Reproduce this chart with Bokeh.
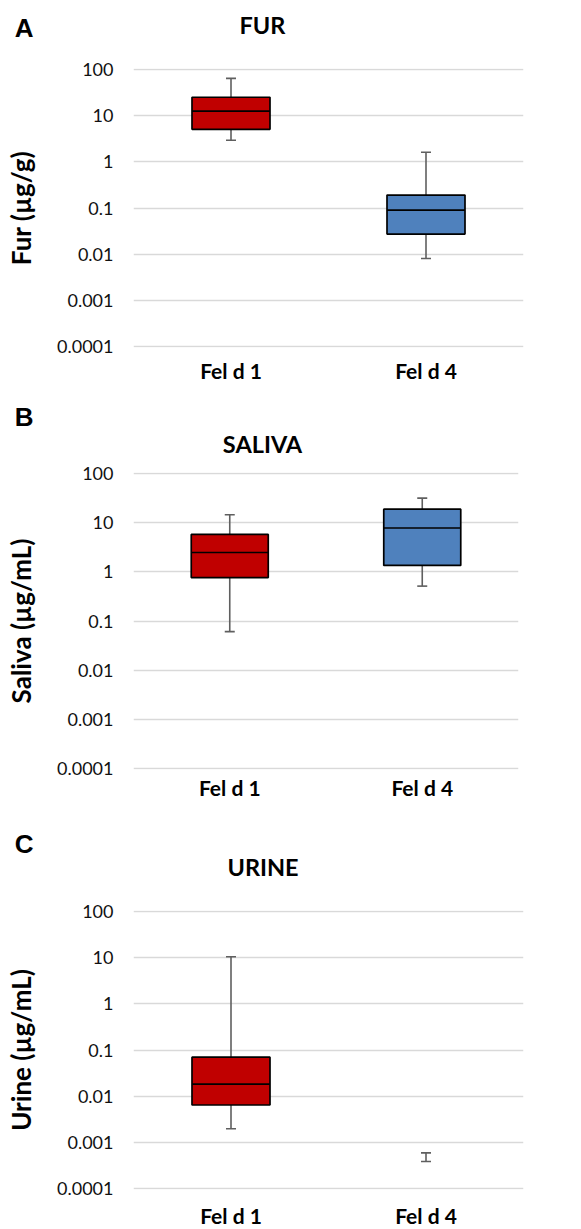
import math
from bokeh.plotting import figure
from bokeh.models import (ColumnDataSource, FactorRange, Range1d, FixedTicker,
                          CustomJSTickFormatter, Label)
from bokeh.layouts import column
from bokeh.embed import file_html
from bokeh.resources import INLINE

NAN = float("nan")

# ---------------- data ----------------
categories = ["Fel d 1", "Fel d 4"]
box_colors = ["#C00000", "#4F81BD"]
tick_values = [0.0001, 0.001, 0.01, 0.1, 1, 10, 100]

panel_letters = ["A", "B", "C"]
panel_titles = ["FUR", "SALIVA", "URINE"]
panel_ylabels = ["Fur (µg/g)", "Saliva (µg/mL)", "Urine (µg/mL)"]

fur_min = [2.9, 0.0081]
fur_q1 = [5.0, 0.0274]
fur_median = [12.3, 0.09]
fur_q3 = [24.6, 0.19]
fur_max = [63.0, 1.6]

saliva_min = [0.061, 0.51]
saliva_q1 = [0.76, 1.34]
saliva_median = [2.45, 7.7]
saliva_q3 = [5.7, 18.5]
saliva_max = [14.3, 31.0]

urine_min = [0.0020, 0.00039]
urine_q1 = [0.0065, NAN]
urine_median = [0.0184, NAN]
urine_q3 = [0.070, NAN]
urine_max = [10.3, 0.0006]

series = [
    (fur_min, fur_q1, fur_median, fur_q3, fur_max),
    (saliva_min, saliva_q1, saliva_median, saliva_q3, saliva_max),
    (urine_min, urine_q1, urine_median, urine_q3, urine_max),
]

# ---------------- layout / style ----------------
W = 565
BL = 133          # common left border (frames are aligned in the column)
LETTER_RIGHT = 33.5
layouts = [
    # hh: header height; ty: title centre from header bottom; ly: letter centre from header top
    dict(hh=54, tx=262.0, ty=29.5, ly=27.5, fw=390, bt=14, fh=279, bb=48, cs=10),
    dict(hh=63, tx=262.0, ty=14.5, ly=21.7, fw=385, bt=14, fh=297, bb=40, cs=5),
    dict(hh=87, tx=262.5, ty=29.3, ly=34.3, fw=390, bt=14, fh=279, bb=39, cs=13),
]

FONT = "Lato"
WHISKER = "#5f5f5f"
GRID = "#D9D9D9"
PAD = 0.012

items = []
for i in range(3):
    L = layouts[i]
    mins, q1, med, q3, maxs = series[i]

    # ---- header strip: panel letter (as a tick label) and panel title ----
    h = figure(width=W, height=L["hh"], frame_width=L["fw"], frame_height=L["hh"],
               x_range=Range1d(0, 1), y_range=Range1d(L["hh"], 0),
               x_axis_location=None, y_axis_location="left",
               min_border_left=BL, min_border_right=W - BL - L["fw"],
               min_border_top=0, min_border_bottom=0,
               output_backend="svg", toolbar_location=None,
               background_fill_color="white", border_fill_color="white")
    h.outline_line_color = None
    h.grid.visible = False
    hy = h.yaxis[0]
    hy.ticker = FixedTicker(ticks=[L["ly"]], minor_ticks=[])
    hy.formatter = CustomJSTickFormatter(args=dict(label=panel_letters[i]), code="return label;")
    hy.axis_line_color = None
    hy.major_tick_line_color = None
    hy.minor_tick_line_color = None
    hy.major_tick_in = 0
    hy.major_tick_out = 0
    hy.major_label_standoff = int(round(BL - LETTER_RIGHT))
    hy.major_label_text_font = "Liberation Sans"
    hy.major_label_text_font_style = "bold"
    hy.major_label_text_font_size = "26px"
    hy.major_label_text_color = "black"
    h.add_layout(Label(x=L["tx"] - BL, y=L["ty"], x_units="screen", y_units="screen",
                       text=panel_titles[i], text_align="center", text_baseline="middle",
                       text_font=FONT, text_font_style="bold", text_font_size="23.5px",
                       text_color="black"))
    items.append(h)

    # ---- box plot ----
    p = figure(
        x_range=FactorRange(factors=categories),
        y_range=Range1d(10 ** (math.log10(tick_values[0]) - PAD),
                        10 ** (math.log10(tick_values[-1]) + PAD)),
        y_axis_type="log",
        frame_width=L["fw"], frame_height=L["fh"],
        min_border_left=BL, min_border_right=W - BL - L["fw"],
        min_border_top=L["bt"], min_border_bottom=L["bb"],
        output_backend="svg", toolbar_location=None,
        background_fill_color="white", border_fill_color="white",
    )
    p.outline_line_color = None
    p.xgrid.visible = False
    p.ygrid.grid_line_color = GRID
    p.ygrid.grid_line_width = 1.5

    src = ColumnDataSource(dict(
        cat=categories,
        left=[(c, -0.2) for c in categories],
        right=[(c, 0.2) for c in categories],
        lo=mins, q1=q1, med=med, q3=q3, hi=maxs,
        color=box_colors,
    ))

    p.segment(x0="cat", x1="cat", y0="lo", y1="hi", source=src,
              line_color=WHISKER, line_width=1.6)
    p.vbar(x="cat", width=0.4, bottom="q1", top="q3", source=src,
           fill_color="color", line_color="black", line_width=1.7)
    p.segment(x0="left", x1="right", y0="med", y1="med", source=src,
              line_color="black", line_width=1.7)
    p.scatter(x="cat", y="lo", marker="dash", size=10, source=src,
              line_color=WHISKER, line_width=1.6)
    p.scatter(x="cat", y="hi", marker="dash", size=10, source=src,
              line_color=WHISKER, line_width=1.6)

    yax = p.yaxis[0]
    yax.ticker = FixedTicker(ticks=tick_values, minor_ticks=[])
    yax.formatter = CustomJSTickFormatter(code="return tick.toString();")
    yax.axis_line_color = None
    yax.major_tick_line_color = None
    yax.minor_tick_line_color = None
    yax.major_tick_in = 0
    yax.major_tick_out = 0
    yax.major_label_standoff = 20
    yax.major_label_text_font = FONT
    yax.major_label_text_font_size = "18px"
    yax.major_label_text_color = "#111111"
    yax.axis_label = panel_ylabels[i]
    yax.axis_label_text_font = FONT
    yax.axis_label_text_font_style = "bold"
    yax.axis_label_text_font_size = "26px"
    yax.axis_label_text_color = "black"
    yax.axis_label_standoff = 17

    xax = p.xaxis[0]
    xax.axis_line_color = None
    xax.major_tick_line_color = None
    xax.minor_tick_line_color = None
    xax.major_tick_in = 0
    xax.major_tick_out = 0
    xax.major_label_standoff = L["cs"]
    xax.major_label_text_font = FONT
    xax.major_label_text_font_style = "bold"
    xax.major_label_text_font_size = "21px"
    xax.major_label_text_color = "black"
    items.append(p)

layout = column(*items, spacing=0)
open("out.html", "w").write(file_html(layout, INLINE))
